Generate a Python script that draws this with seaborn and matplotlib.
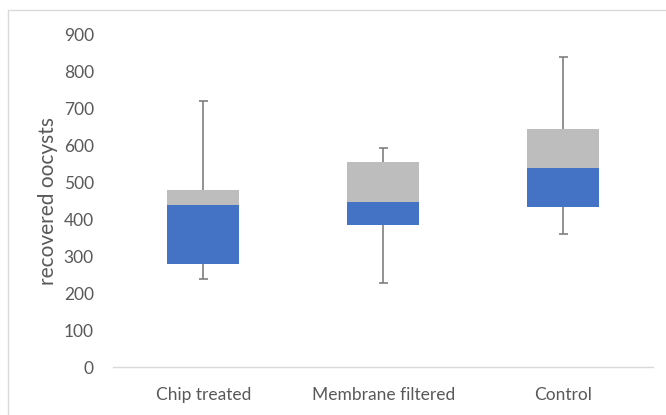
import numpy as np
import pandas as pd
import matplotlib
matplotlib.use("Agg")
import matplotlib.pyplot as plt
from matplotlib.lines import Line2D
import seaborn as sns

# Box-plot summary statistics per group
categories = ["Chip treated", "Membrane filtered", "Control"]
minimum = [240, 228, 360]
q1 = [280, 385, 435]
median = [440, 448, 540]
q3 = [480, 555, 645]
maximum = [720, 595, 840]
yticks = [0, 100, 200, 300, 400, 500, 600, 700, 800, 900]

df = pd.DataFrame({
    "group": categories,
    "lower": np.array(median) - np.array(q1),
    "upper": np.array(q3) - np.array(median),
})

sns.set_theme(style="white")
plt.rcParams["font.family"] = ["Lato", "DejaVu Sans"]

text_grey = "#595959"
blue = "#4472C4"
grey = "#BDBDBD"
whisker = "#7F7F7F"

fig = plt.figure(figsize=(6.66, 4.15), dpi=100)
ax = fig.add_axes([0.170, 0.115, 0.811, 0.801])

# lower half of the box: Q1 -> median
sns.barplot(data=df, x="group", y="lower", color=blue, width=0.4,
            bottom=q1, saturation=1, linewidth=0, ax=ax)
# upper half of the box: median -> Q3
sns.barplot(data=df, x="group", y="upper", color=grey, width=0.4,
            bottom=median, saturation=1, linewidth=0, ax=ax)

pos = np.arange(len(categories))
cap = 0.025
ax.vlines(pos, q3, maximum, color=whisker, lw=1.2, zorder=3)
ax.vlines(pos, minimum, q1, color=whisker, lw=1.2, zorder=3)
ax.hlines(maximum, pos - cap, pos + cap, color=whisker, lw=1.2, zorder=3)
ax.hlines(minimum, pos - cap, pos + cap, color=whisker, lw=1.2, zorder=3)

ax.set_ylim(0, 900)
ax.set_xlim(-0.5, len(categories) - 0.5)
ax.set_yticks(yticks)
ax.set_yticklabels([str(t) for t in yticks])
ax.tick_params(axis="y", length=0, pad=14, labelsize=12.5, labelcolor=text_grey)
ax.tick_params(axis="x", length=0, pad=14, labelsize=12.5, labelcolor=text_grey)
ax.set_xlabel("")
ax.set_ylabel("recovered oocysts", fontsize=15, color=text_grey, labelpad=4)

for side in ["left", "right", "top"]:
    ax.spines[side].set_visible(False)
ax.spines["bottom"].set_color("#D9D9D9")
ax.spines["bottom"].set_linewidth(1.0)

# chart area frame
fig.add_artist(Line2D([0.0113, 0.0113], [0.0, 0.976], transform=fig.transFigure,
                      color="#D9D9D9", lw=1.0))
fig.add_artist(Line2D([0.0113, 1.0], [0.976, 0.976], transform=fig.transFigure,
                      color="#D9D9D9", lw=1.0))

fig.savefig("out.png", dpi=100, facecolor="white")
